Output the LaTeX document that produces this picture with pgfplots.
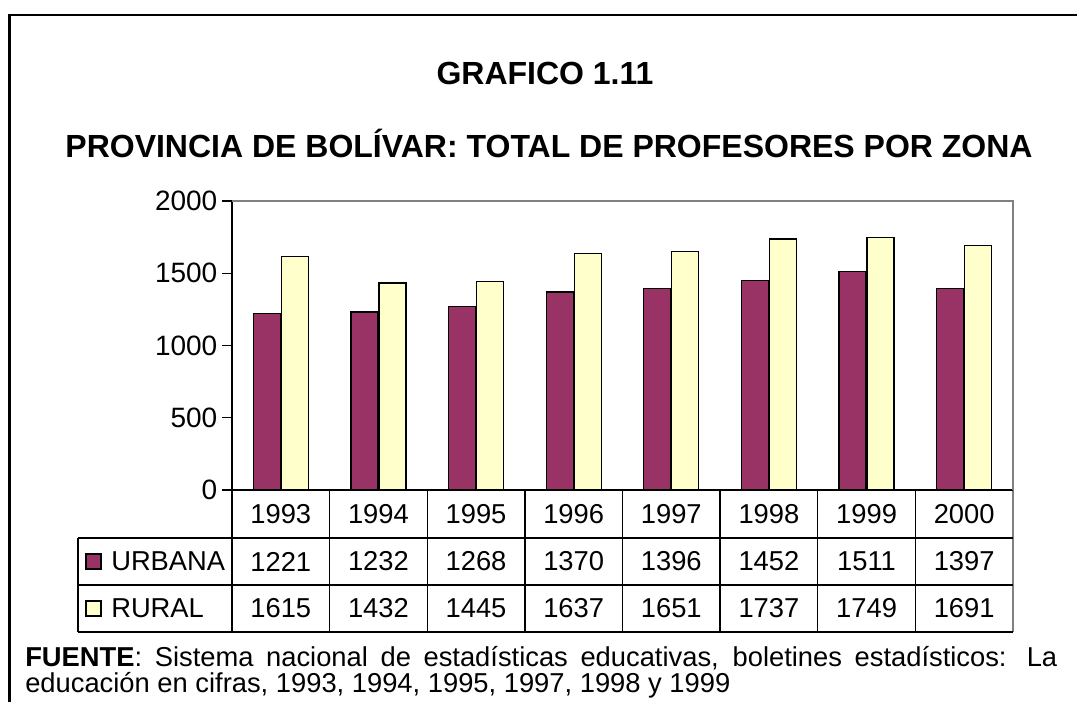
\documentclass[border=0pt]{standalone}
\usepackage{fontspec}
\setmainfont{Liberation Sans}
\usepackage{pgfplots}
\pgfplotsset{compat=1.18}
\definecolor{urbana}{HTML}{993366}
\definecolor{rural}{HTML}{FFFFCC}
\begin{document}
\begin{tikzpicture}
\begin{scope}[x=0.75pt,y=0.75pt]
\useasboundingbox (0,0) rectangle (1077,702);
% outer frame (top and left only)
\draw[line width=2.2pt] (9.5,0) -- (9.5,687) -- (1077,687);
\node[font=\bfseries\fontsize{24}{28}\selectfont, anchor=base] at (545,617) {GRAFICO 1.11};
\node[font=\bfseries\fontsize{24}{28}\selectfont, anchor=base] at (549,544) {PROVINCIA DE BOLÍVAR: TOTAL DE PROFESORES POR ZONA};
% data table under the chart
\foreach \k in {0,...,7} \draw[line width=1pt] (232+97.625*\k,212) -- (232+97.625*\k,70);
\draw[gray, line width=1pt] (1013,212) -- (1013,70);
\draw[line width=1pt] (78,164) -- (1013,164) (78,117) -- (1013,117) (78,70) -- (1013,70) (78,164) -- (78,70);
\foreach \y [count=\i from 0] in {1993,1994,1995,1996,1997,1998,1999,2000}
  \node[font=\fontsize{20.5}{24}\selectfont] at (232+97.625*\i+48.8,188) {\y};
\foreach \v [count=\i from 0] in {1221,1232,1268,1370,1396,1452,1511,1397}
  \node[font=\fontsize{20.5}{24}\selectfont] at (232+97.625*\i+48.8,140.5) {\v};
\foreach \v [count=\i from 0] in {1615,1432,1445,1637,1651,1737,1749,1691}
  \node[font=\fontsize{20.5}{24}\selectfont] at (232+97.625*\i+48.8,93.5) {\v};
\draw[fill=urbana, line width=0.9pt] (86,148) rectangle (101,133);
\draw[fill=rural, line width=0.9pt] (86,101) rectangle (101,86);
\node[font=\fontsize{20.5}{24}\selectfont, anchor=west, inner sep=0pt] at (111,140.5) {URBANA};
\node[font=\fontsize{20.5}{24}\selectfont, anchor=west, inner sep=0pt] at (111,93.5) {RURAL};
% source note
\node[font=\fontsize{20.5}{24}\selectfont, anchor=base west, inner sep=0pt] at (25,35)
  {\makebox[774pt][s]{\textbf{FUENTE}: Sistema nacional de estadísticas educativas, boletines estadísticos: La}};
\node[font=\fontsize{20.5}{24}\selectfont, anchor=base west, inner sep=0pt] at (25,9)
  {educación en cifras, 1993, 1994, 1995, 1997, 1998 y 1999};
\end{scope}
\begin{axis}[
    at={(174pt,159pt)}, anchor=south west,
    scale only axis, width=585.75pt, height=216.75pt,
    xmin=-0.5, xmax=7.5, ymin=0, ymax=2000,
    ytick={0,500,...,2000}, xtick=\empty,
    axis x line=bottom, axis y line=left,
    axis line style={-, black, line width=1pt},
    ytick style={black, line width=1pt},
    tick align=outside, major tick length=7.5pt,
    yticklabel style={font=\fontsize{21}{25}\selectfont},
    /pgf/number format/assume math mode=true,
    /pgf/number format/1000 sep={},
    ybar=0.75pt, bar width=20.25pt, clip=false,
    every axis plot/.append style={draw=black, line width=0.9pt},
]
\addplot[fill=urbana] coordinates {(0,1221) (1,1232) (2,1268) (3,1370) (4,1396) (5,1452) (6,1511) (7,1397)};
\addplot[fill=rural] coordinates {(0,1615) (1,1432) (2,1445) (3,1637) (4,1651) (5,1737) (6,1749) (7,1691)};
\draw[gray, line width=1pt] (rel axis cs:0,1) -- (rel axis cs:1,1) -- (rel axis cs:1,0);
\end{axis}
\end{tikzpicture}
\end{document}
